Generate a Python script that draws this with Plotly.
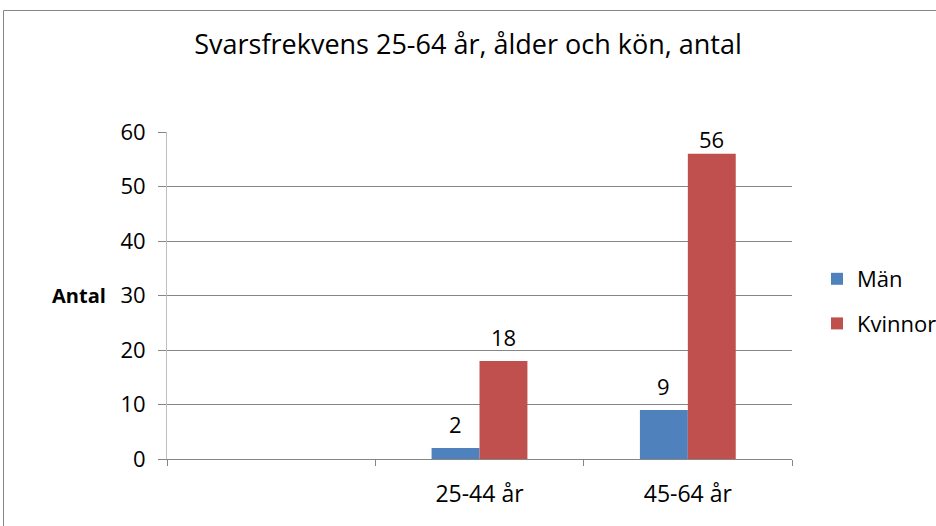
import plotly.graph_objects as go

categories = [" ", "25-44 år", "45-64 år"]
man = [None, 2, 9]
kvinnor = [None, 18, 56]
series_names = ["Män", "Kvinnor"]
series_colors = ["#4F81BD", "#C0504D"]
title_text = "Svarsfrekvens 25-64 år, ålder och kön, antal"
y_title = "Antal"
y_max = 60

FONT = "Open Sans, Liberation Sans, sans-serif"
LBL = 22

W, H = 936, 526
L, R, T, B = 167, 144, 132, 67
pw, ph = W - L - R, H - T - B
ppu = ph / y_max           # pixels per data unit (style helper)
half_bar = pw / len(categories) * 0.46 / 4   # offset from category centre to bar centre

fig = go.Figure()
for name, vals, col, grp in [(series_names[0], man, series_colors[0], "a"),
                             (series_names[1], kvinnor, series_colors[1], "b")]:
    fig.add_trace(go.Bar(
        x=categories, y=vals, name=name, legendgroup=grp,
        marker=dict(color=col, line=dict(width=0)),
    ))

# data labels placed at the bar values through the axes
for vals, sign in [(man, -1), (kvinnor, 1)]:
    for cat, v in zip(categories, vals):
        if v is None:
            continue
        shift = min(7, (y_max - v) * ppu - 24)
        fig.add_annotation(
            x=cat, y=v, xref="x", yref="y", text=str(v), showarrow=False,
            xanchor="center", yanchor="bottom", xshift=sign * half_bar, yshift=shift,
            font=dict(size=LBL, family=FONT, color="#000000"),
        )

fig.update_layout(
    width=W, height=H,
    margin=dict(l=L, r=R, t=T, b=B, autoexpand=False),
    paper_bgcolor="white", plot_bgcolor="white",
    font=dict(family=FONT, size=LBL, color="#000000"),
    barmode="group", bargap=0.54, bargroupgap=0,
    title=dict(text=title_text, x=0.5, xref="container", xanchor="center",
               y=1 - 45 / H, yanchor="middle", yref="container",
               font=dict(size=27, family=FONT, color="#000000")),
    showlegend=True,
    legend=dict(x=(817 - L) / pw, xanchor="left", y=1 - (258 - T) / ph,
                yanchor="top", yref="paper", xref="paper",
                traceorder="grouped", tracegroupgap=13,
                font=dict(size=22, family=FONT, color="#000000"),
                itemwidth=30, bgcolor="rgba(0,0,0,0)"),
)
fig.update_xaxes(
    type="category", showgrid=False, showline=True, linecolor="#868686", linewidth=1,
    ticks="outside", tickson="boundaries", ticklen=6, tickcolor="#868686",
    tickfont=dict(size=23, family=FONT), ticklabelstandoff=14,
)
fig.update_yaxes(
    range=[0, y_max], dtick=10, showgrid=True, gridcolor="#868686", gridwidth=1,
    showline=True, linecolor="#BFBFBF", linewidth=1,
    ticks="outside", ticklen=8, tickcolor="#868686", ticklabelstandoff=8,
    tickfont=dict(size=LBL, family=FONT), zeroline=False,
)
fig.add_annotation(text="<b>" + y_title + "</b>", xref="paper", yref="y",
                   x=(79 - L) / pw, xanchor="center", y=30, yanchor="middle",
                   showarrow=False,
                   font=dict(size=20, family=FONT, color="#000000"))
fig.add_shape(type="rect", xref="paper", yref="paper",
              x0=(3.5 - L) / pw, x1=(W + 5 - L) / pw,
              y0=1 + (T - 10.5) / ph, y1=-(B + 5) / ph,
              line=dict(color="#868686", width=1), layer="below")

fig.write_html(
    "out.html",
    config={"displayModeBar": False},
    post_script="document.body.style.margin='0';document.body.style.overflow='hidden';",
)
